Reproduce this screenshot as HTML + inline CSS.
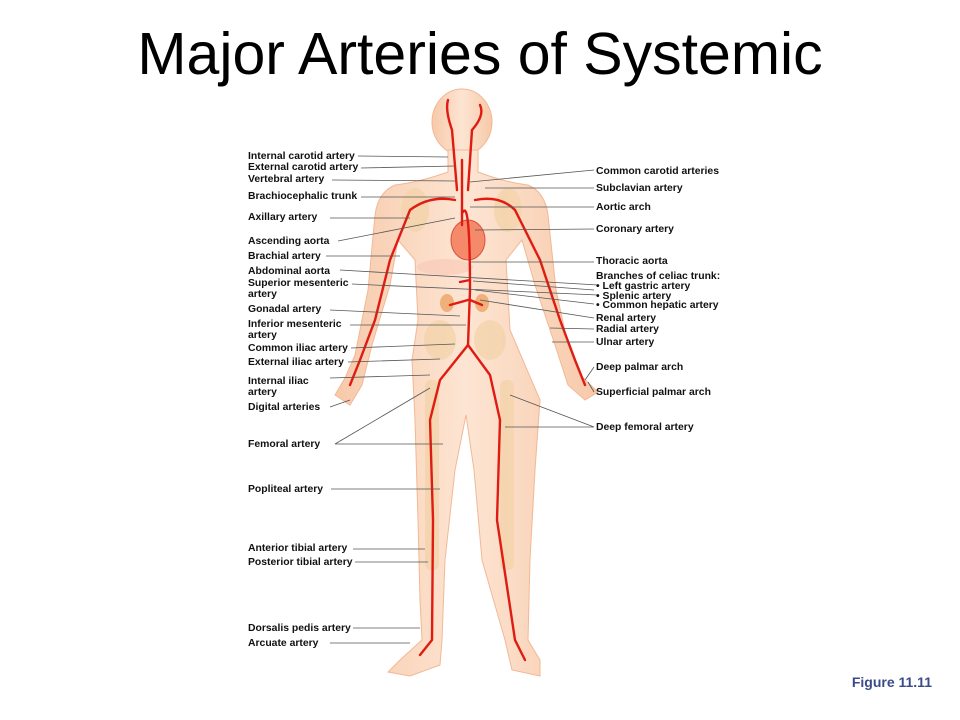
<!DOCTYPE html>
<html><head><meta charset="utf-8"><style>
html,body{margin:0;padding:0;background:#fff;}
body{width:960px;height:720px;position:relative;overflow:hidden;font-family:"Liberation Sans",Arial,sans-serif;}
h1{position:absolute;left:0;width:960px;top:20px;margin:0;text-align:center;font-weight:normal;font-size:59px;line-height:68px;color:#000;}
.fig{position:absolute;right:28px;top:674px;font-weight:bold;font-size:14px;color:#3a4a8a;}
svg{position:absolute;left:0;top:0;}
svg text{font-family:"Liberation Sans",Arial,sans-serif;font-weight:bold;font-size:10.4px;fill:#111;}
</style></head><body>
<svg width="960" height="720" viewBox="0 0 960 720">
<defs><linearGradient id="sk" x1="0" x2="1"><stop offset="0" stop-color="#f7c9a9"/><stop offset=".5" stop-color="#fde5d3"/><stop offset="1" stop-color="#f7c9a9"/></linearGradient></defs>
<g fill="url(#sk)" stroke="#f2b896" stroke-width="1">
<ellipse cx="462" cy="122" rx="30" ry="33"/>
<path d="M448 150 L448 172 Q420 182 395 185 Q378 192 375 215 L368 290 L355 355 L345 378 L335 395 L350 405 L362 385 L372 345 L390 285 L398 240 L415 260 L418 320 L412 360 L415 420 L418 520 L420 600 L422 640 L400 660 L388 672 L410 676 L440 665 L442 640 L445 560 L455 470 L466 415 L474 470 L482 560 L505 640 L512 670 L540 676 L540 660 L528 640 L530 560 L535 470 L540 400 L510 330 L506 260 L522 240 L535 285 L555 345 L568 385 L585 400 L598 392 L580 375 L568 345 L556 290 L548 215 Q545 192 528 185 Q504 182 478 172 L478 150 Z"/>
</g>
<g fill="#f3d3a8" opacity=".7">
<ellipse cx="415" cy="210" rx="14" ry="22"/><ellipse cx="508" cy="210" rx="14" ry="22"/>
<ellipse cx="440" cy="340" rx="16" ry="20"/><ellipse cx="490" cy="340" rx="16" ry="20"/>
<rect x="425" y="380" width="14" height="190" rx="6"/><rect x="500" y="380" width="14" height="190" rx="6"/>
<ellipse cx="445" cy="267" rx="28" ry="8" fill="#f9cbb8"/>
</g>
<ellipse cx="468" cy="240" rx="17" ry="20" fill="#f48a6a" stroke="#d9503a"/>
<g fill="#f0b07a"><ellipse cx="447" cy="303" rx="7" ry="9"/><ellipse cx="482" cy="303" rx="7" ry="9"/></g>
<g fill="none" stroke="#e01b12" stroke-width="2.4" stroke-linecap="round">
<path d="M462 225 L462 160 M457 190 L452 130 M468 190 L472 130 M452 130 Q445 110 448 100 M472 130 Q485 115 480 105"/>
<path d="M463 212 Q470 200 470 290 L468 345 L440 380 L430 420 L433 520 L432 640 L420 655"/>
<path d="M468 345 L490 375 L500 420 L497 520 L515 640 L525 660"/>
<path d="M455 200 Q430 195 410 210 L390 260 L375 320 L360 360 L350 385"/>
<path d="M475 200 Q500 195 515 210 L540 260 L560 320 L575 360 L585 385"/>
<path d="M468 300 L450 305 M470 300 L482 305 M470 280 L460 282"/>
</g>
<g stroke="#555" stroke-width="0.8" fill="none">
<path d="M358 156 L448 157 M361 168 L455 166 M332 180 L455 181 M361 197 L455 197 M330 218 L410 218 M338 241 L455 218 M326 256 L400 256 M340 270 L598 285 M352 284 L598 295 M330 310 L460 316 M350 325 L466 325 M351 348 L455 344 M348 362 L440 359 M330 378 L430 375 M330 407 L350 400 M335 444 L430 388 M335 444 L443 444 M331 489 L440 489 M353 549 L425 549 M355 562 L428 562 M353 628 L420 628 M330 643 L410 643"/>
<path d="M594 170 L470 182 M594 188 L485 188 M594 207 L470 207 M594 229 L475 230 M594 262 L470 262 M594 290 L473 281 M594 304 L475 290 M594 318 L480 300 M594 329 L550 328 M594 342 L552 342 M594 367 L585 380 M594 392 L588 382 M594 427 L510 395 M594 427 L505 427"/>
</g>
<g>
<text x="248" y="159">Internal carotid artery</text>
<text x="248" y="170">External carotid artery</text>
<text x="248" y="182">Vertebral artery</text>
<text x="248" y="199">Brachiocephalic trunk</text>
<text x="248" y="220">Axillary artery</text>
<text x="248" y="244">Ascending aorta</text>
<text x="248" y="259">Brachial artery</text>
<text x="248" y="274">Abdominal aorta</text>
<text x="248" y="286">Superior mesenteric</text>
<text x="248" y="297">artery</text>
<text x="248" y="312">Gonadal artery</text>
<text x="248" y="327">Inferior mesenteric</text>
<text x="248" y="338">artery</text>
<text x="248" y="351">Common iliac artery</text>
<text x="248" y="365">External iliac artery</text>
<text x="248" y="384">Internal iliac</text>
<text x="248" y="395">artery</text>
<text x="248" y="410">Digital arteries</text>
<text x="248" y="447">Femoral artery</text>
<text x="248" y="492">Popliteal artery</text>
<text x="248" y="551">Anterior tibial artery</text>
<text x="248" y="565">Posterior tibial artery</text>
<text x="248" y="631">Dorsalis pedis artery</text>
<text x="248" y="646">Arcuate artery</text>
<text x="596" y="174">Common carotid arteries</text>
<text x="596" y="191">Subclavian artery</text>
<text x="596" y="210">Aortic arch</text>
<text x="596" y="232">Coronary artery</text>
<text x="596" y="264">Thoracic aorta</text>
<text x="596" y="279">Branches of celiac trunk:</text>
<text x="596" y="289">• Left gastric artery</text>
<text x="596" y="299">• Splenic artery</text>
<text x="596" y="308">• Common hepatic artery</text>
<text x="596" y="321">Renal artery</text>
<text x="596" y="332">Radial artery</text>
<text x="596" y="345">Ulnar artery</text>
<text x="596" y="370">Deep palmar arch</text>
<text x="596" y="395">Superficial palmar arch</text>
<text x="596" y="430">Deep femoral artery</text>
</g>
</svg>
<h1>Major Arteries of Systemic</h1>
<div class="fig">Figure 11.11</div>
</body></html>
